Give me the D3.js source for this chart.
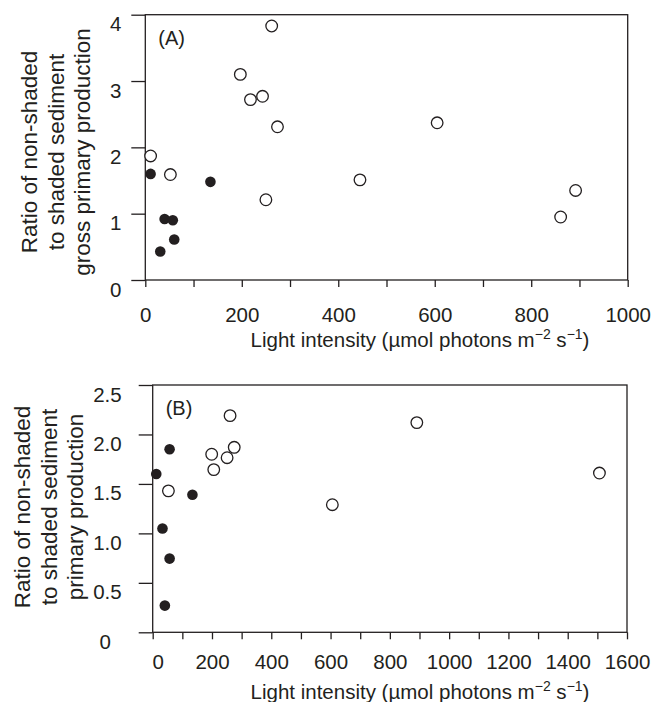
<!DOCTYPE html>
<html>
<head>
<meta charset="utf-8">
<script src="https://cdn.jsdelivr.net/npm/d3@7"></script>
<style>
  body { margin: 0; background: #fff; }
  svg { display: block; }
</style>
</head>
<body>
<div id="chart"></div>
<script>
// Panel A: gross primary production ratio
const aOpenLight = [262, 197, 218, 243, 274, 605, 11, 52, 445, 250, 892, 861]
const aOpenRatio = [3.83, 3.10, 2.72, 2.77, 2.31, 2.37, 1.87, 1.59, 1.51, 1.21, 1.35, 0.95]
const aFilledLight = [11, 135, 40, 57, 60, 31]
const aFilledRatio = [1.60, 1.48, 0.92, 0.90, 0.61, 0.43]
const aXTicks = [0, 100, 200, 300, 400, 500, 600, 700, 800, 900, 1000]
const aYTicks = [0, 1, 2, 3, 4]

// Panel B: primary production ratio
const bOpenLight = [261, 891, 275, 199, 251, 206, 53, 606, 1507]
const bOpenRatio = [2.19, 2.12, 1.87, 1.80, 1.765, 1.645, 1.43, 1.29, 1.61]
const bFilledLight = [57, 12, 134, 33, 57, 41]
const bFilledRatio = [1.85, 1.60, 1.39, 1.05, 0.745, 0.27]
const bXTicks = [0, 100, 200, 300, 400, 500, 600, 700, 800, 900, 1000, 1100, 1200, 1300, 1400, 1500, 1600]
const bYTicks = [0, 0.5, 1.0, 1.5, 2.0, 2.5]

const width = 652
const height = 702
const ink = "#231f20"
const font = "'Liberation Sans', Arial, Helvetica, sans-serif"

const svg = d3.select("#chart").append("svg")
    .attr("width", width)
    .attr("height", height)
    .attr("viewBox", [0, 0, width, height])

function ScatterPanel(svg, {
    left, right, top, bottom, xMax, yMax, xTicks, yTicks, yFormat,
    open, filled, label, yTitle, titleX, yTitleX, yTitleY, xTitleY,
    xLabelY, yLabelX
}) {
    const x = d3.scaleLinear().domain([0, xMax]).range([left, right])
    const y = d3.scaleLinear().domain([0, yMax]).range([bottom, top])

    const g = svg.append("g")

    // 1. Marco
    g.append("rect")
        .attr("x", left)
        .attr("y", top)
        .attr("width", right - left)
        .attr("height", bottom - top)
        .attr("fill", "none")
        .attr("stroke", ink)
        .attr("stroke-width", 1.3)

    // 2. Ejes
    const xAxis = d3.axisBottom(x)
        .tickValues(xTicks)
        .tickSize(7)
        .tickSizeOuter(0)
        .tickFormat(d => d % 200 === 0 ? d : "")

    const gx = g.append("g")
        .attr("transform", `translate(0,${bottom})`)
        .call(xAxis)
    gx.select(".domain").remove()
    gx.selectAll(".tick line").attr("stroke", ink).attr("stroke-width", 1.3)
    gx.selectAll(".tick text")
        .attr("fill", ink)
        .attr("font-family", font)
        .attr("font-size", "20.5px")
        .attr("y", xLabelY)
        .attr("dy", "0.71em")

    const yAxis = d3.axisLeft(y)
        .tickValues(yTicks)
        .tickSize(14)
        .tickSizeOuter(0)
        .tickFormat(yFormat)

    const gy = g.append("g")
        .attr("transform", `translate(${left},0)`)
        .call(yAxis)
    gy.select(".domain").remove()
    gy.selectAll(".tick line").attr("stroke", ink).attr("stroke-width", 1.3)
    gy.selectAll(".tick text")
        .attr("fill", ink)
        .attr("font-family", font)
        .attr("font-size", "20.5px")
        .attr("x", yLabelX)
        .attr("dy", "0.78em")
        .attr("y", 0)

    // 3. Puntos
    g.selectAll("circle.open")
        .data(open)
        .join("circle")
        .attr("class", "open")
        .attr("cx", d => x(d[0]))
        .attr("cy", d => y(d[1]))
        .attr("r", 5.8)
        .attr("fill", "#fff")
        .attr("stroke", ink)
        .attr("stroke-width", 1.3)

    g.selectAll("circle.filled")
        .data(filled)
        .join("circle")
        .attr("class", "filled")
        .attr("cx", d => x(d[0]))
        .attr("cy", d => y(d[1]))
        .attr("r", 5.3)
        .attr("fill", ink)

    // 4. Etiquetas
    g.append("text")
        .attr("x", left + 13)
        .attr("y", top + 30)
        .attr("fill", ink)
        .attr("font-family", font)
        .attr("font-size", "20px")
        .text(label)

    const xt = g.append("text")
        .attr("x", titleX)
        .attr("y", xTitleY)
        .attr("text-anchor", "middle")
        .attr("fill", ink)
        .attr("font-family", font)
        .attr("font-size", "20.5px")
    xt.append("tspan").text("Light intensity (µmol photons m")
    xt.append("tspan").attr("dy", -8).attr("font-size", "14px").text("−2")
    xt.append("tspan").attr("dy", 8).text(" s")
    xt.append("tspan").attr("dy", -8).attr("font-size", "14px").text("−1")
    xt.append("tspan").attr("dy", 8).text(")")

    yTitle.forEach((line, i) => {
        g.append("text")
            .attr("transform", `translate(${yTitleX + i * 26.5},${yTitleY}) rotate(-90)`)
            .attr("text-anchor", "middle")
            .attr("fill", ink)
            .attr("font-family", font)
            .attr("font-size", "22.5px")
            .text(line)
    })

    return { x, y, gx, gy }
}

ScatterPanel(svg, {
    left: 145.3, right: 627.7, top: 14.7, bottom: 280,
    xMax: 1000, yMax: 4, xTicks: aXTicks, yTicks: aYTicks,
    yFormat: d3.format("d"),
    open: aOpenLight.map((v, i) => [v, aOpenRatio[i]]),
    filled: aFilledLight.map((v, i) => [v, aFilledRatio[i]]),
    label: "(A)",
    yTitle: ["Ratio of non-shaded", "to shaded sediment", "gross primary production"],
    titleX: 420, yTitleX: 37, yTitleY: 152, xTitleY: 347,
    xLabelY: 27, yLabelX: -24
})

const panelB = ScatterPanel(svg, {
    left: 152.7, right: 627, top: 385, bottom: 632.3,
    xMax: 1600, yMax: 2.5, xTicks: bXTicks, yTicks: bYTicks,
    yFormat: d => d === 0 ? "0" : d3.format(".1f")(d),
    open: bOpenLight.map((v, i) => [v, bOpenRatio[i]]),
    filled: bFilledLight.map((v, i) => [v, bFilledRatio[i]]),
    label: "(B)",
    yTitle: ["Ratio of non-shaded", "to shaded sediment", "primary production"],
    titleX: 420, yTitleX: 30, yTitleY: 507, xTitleY: 699,
    xLabelY: 22.5, yLabelX: -31
})

// el cero de B va centrado bajo la columna
panelB.gy.selectAll(".tick text")
    .filter(d => d === 0)
    .attr("x", -47.5)
    .attr("text-anchor", "middle")
panelB.gx.selectAll(".tick text")
    .filter(d => d === 0)
    .attr("dx", 5)
</script>
</body>
</html>
